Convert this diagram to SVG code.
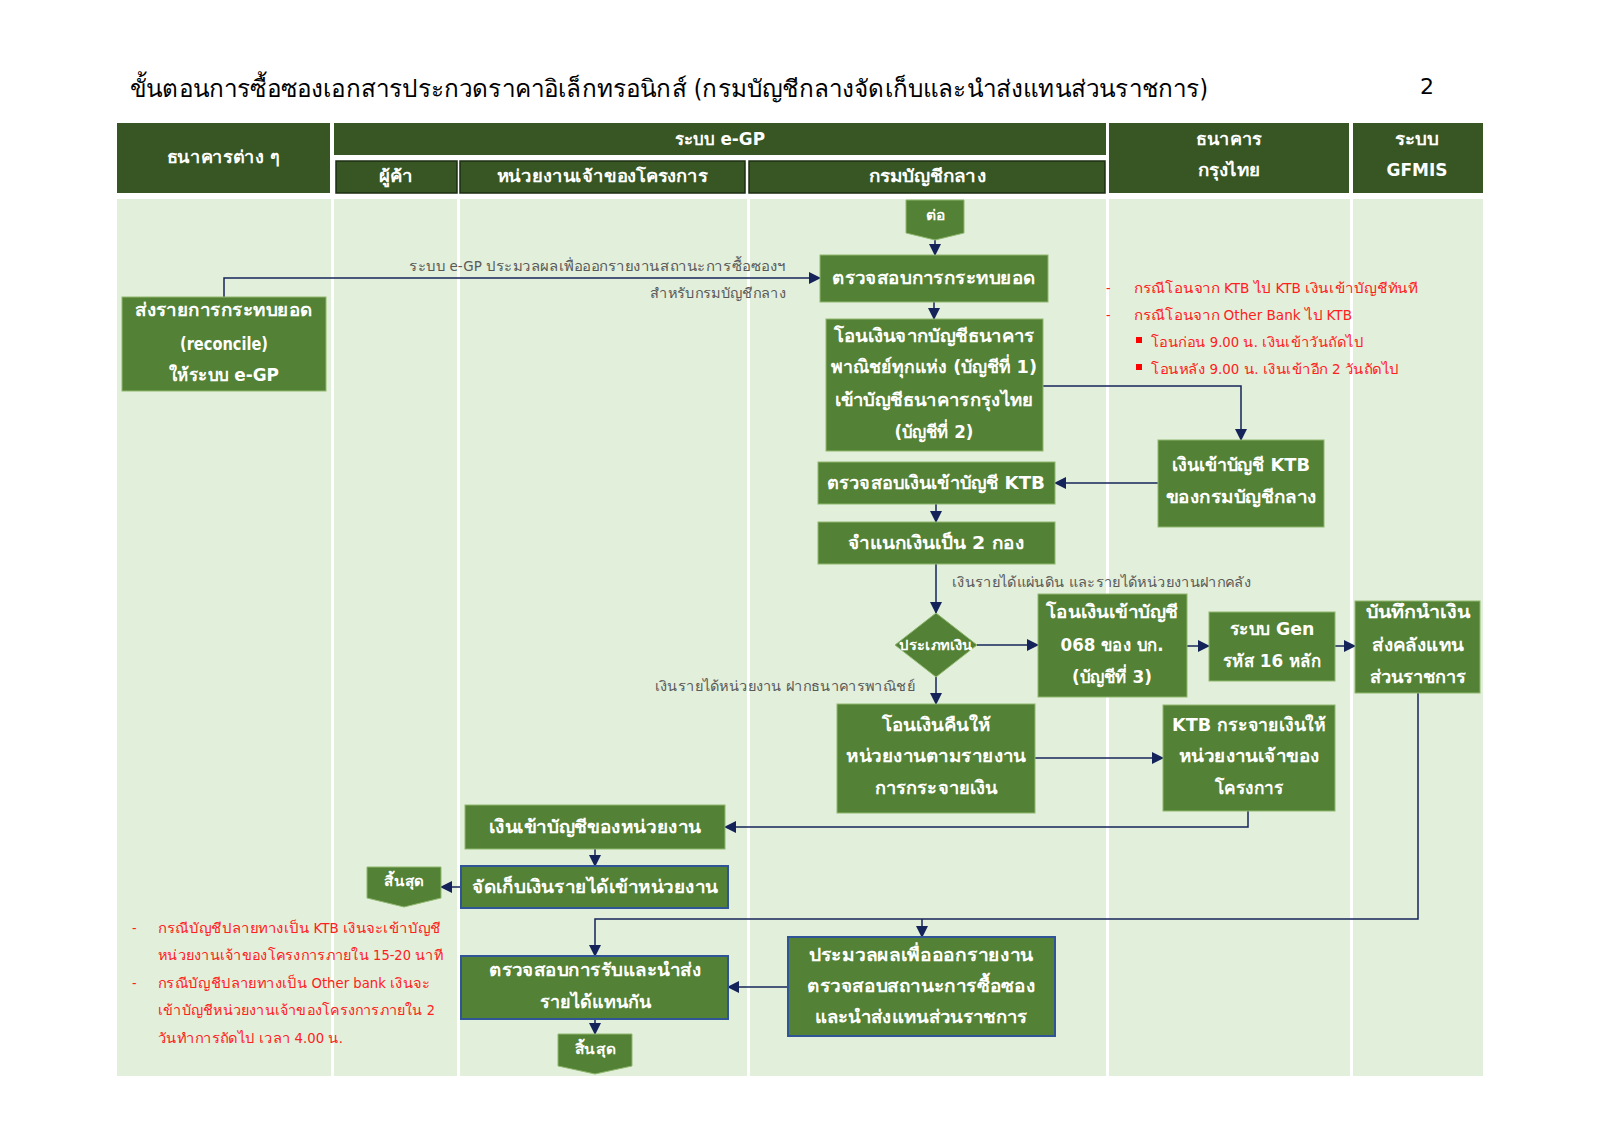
<svg xmlns="http://www.w3.org/2000/svg" width="1600" height="1130" viewBox="0 0 1600 1130">
<defs>
<marker id="ah" markerUnits="userSpaceOnUse" markerWidth="12" markerHeight="12" refX="11" refY="6" orient="auto">
<path d="M0,0 L12,6 L0,12 z" fill="#14245a"/>
</marker>
<style>
.hd{fill:#375623}
.sub{fill:#375623;stroke:#1c2e12;stroke-width:1.5}
.ht{font-family:"DejaVu Sans",sans-serif;font-weight:bold;font-size:17px;fill:#fff;text-anchor:middle}
.bx{fill:#538135;stroke:#8fb870;stroke-width:1}
.bb{fill:#538135;stroke:#2f5597;stroke-width:2}
.t{font-family:"DejaVu Sans",sans-serif;font-weight:bold;font-size:18px;fill:#fff;text-anchor:middle}
.ts{font-family:"DejaVu Sans",sans-serif;font-weight:bold;font-size:14px;fill:#fff;text-anchor:middle}
.lb{font-family:"DejaVu Sans Condensed","DejaVu Sans",sans-serif;font-size:14px;fill:#595959}
.rd{font-family:"DejaVu Sans Condensed","DejaVu Sans",sans-serif;font-size:14px;fill:#ff2020}
.cn{fill:none;stroke:#14245a;stroke-width:1.5}
</style>
</defs>
<rect width="1600" height="1130" fill="#fff"/>
<text x="130" y="97" font-family="DejaVu Sans Condensed, DejaVu Sans, sans-serif" font-size="24" fill="#000" textLength="1078" lengthAdjust="spacingAndGlyphs">ขั้นตอนการซื้อซองเอกสารประกวดราคาอิเล็กทรอนิกส์ (กรมบัญชีกลางจัดเก็บและนำส่งแทนส่วนราชการ)</text>
<text x="1427" y="94" font-family="DejaVu Sans, sans-serif" font-size="22" fill="#000" text-anchor="middle">2</text>

<g id="lanes">
<rect x="117" y="199" width="1366" height="877" fill="#e2efda"/>
<rect x="331" y="199" width="3" height="877" fill="#fff"/>
<rect x="457" y="199" width="3" height="877" fill="#fff"/>
<rect x="747" y="199" width="3" height="877" fill="#fff"/>
<rect x="1106" y="199" width="3" height="877" fill="#fff"/>
<rect x="1350" y="199" width="3" height="877" fill="#fff"/>
</g>

<g id="header">
<rect class="hd" x="117" y="123" width="213" height="70"/>
<rect class="hd" x="334" y="123" width="772" height="32"/>
<rect class="sub" x="336" y="161" width="121" height="32"/>
<rect class="sub" x="460" y="161" width="285" height="32"/>
<rect class="sub" x="749" y="161" width="356" height="32"/>
<rect class="hd" x="1109" y="123" width="240" height="70"/>
<rect class="hd" x="1353" y="123" width="130" height="70"/>
<text class="ht" x="223" y="163" textLength="113" lengthAdjust="spacingAndGlyphs">ธนาคารต่าง ๆ</text>
<text class="ht" x="720" y="145" textLength="90" lengthAdjust="spacingAndGlyphs">ระบบ e-GP</text>
<text class="ht" x="396" y="182" textLength="34" lengthAdjust="spacingAndGlyphs">ผู้ค้า</text>
<text class="ht" x="602" y="182" textLength="211" lengthAdjust="spacingAndGlyphs">หน่วยงานเจ้าของโครงการ</text>
<text class="ht" x="927" y="182" textLength="117" lengthAdjust="spacingAndGlyphs">กรมบัญชีกลาง</text>
<text class="ht" x="1229" y="145" textLength="66" lengthAdjust="spacingAndGlyphs">ธนาคาร</text>
<text class="ht" x="1229" y="176" textLength="63" lengthAdjust="spacingAndGlyphs">กรุงไทย</text>
<text class="ht" x="1417" y="145" textLength="44" lengthAdjust="spacingAndGlyphs">ระบบ</text>
<text class="ht" x="1417" y="176">GFMIS</text>
</g>

<g id="connectors">
<polyline class="cn" points="224,297 224,278 820,278" marker-end="url(#ah)"/>
<polyline class="cn" points="935,240 935,255" marker-end="url(#ah)"/>
<polyline class="cn" points="934,302 934,319" marker-end="url(#ah)"/>
<polyline class="cn" points="1043,386 1241,386 1241,440" marker-end="url(#ah)"/>
<polyline class="cn" points="1158,483 1055,483" marker-end="url(#ah)"/>
<polyline class="cn" points="936,504 936,522" marker-end="url(#ah)"/>
<polyline class="cn" points="936,564 936,613" marker-end="url(#ah)"/>
<polyline class="cn" points="977,645 1038,645" marker-end="url(#ah)"/>
<polyline class="cn" points="1187,646 1209,646" marker-end="url(#ah)"/>
<polyline class="cn" points="1335,646 1355,646" marker-end="url(#ah)"/>
<polyline class="cn" points="936,677 936,704" marker-end="url(#ah)"/>
<polyline class="cn" points="1035,758 1163,758" marker-end="url(#ah)"/>
<polyline class="cn" points="1248,811 1248,827 725,827" marker-end="url(#ah)"/>
<polyline class="cn" points="595,849 595,866" marker-end="url(#ah)"/>
<polyline class="cn" points="461,887 441,887" marker-end="url(#ah)"/>
<polyline class="cn" points="1418,693 1418,919 595,919 595,956" marker-end="url(#ah)"/>
<polyline class="cn" points="922,919 922,937" marker-end="url(#ah)"/>
<polyline class="cn" points="788,987 728,987" marker-end="url(#ah)"/>
<polyline class="cn" points="595,1019 595,1034" marker-end="url(#ah)"/>
</g>

<g id="labels">
<text class="lb" x="786" y="271" text-anchor="end" textLength="377" lengthAdjust="spacingAndGlyphs">ระบบ e-GP ประมวลผลเพื่อออกรายงานสถานะการซื้อซองฯ</text>
<text class="lb" x="786" y="298" text-anchor="end" textLength="136" lengthAdjust="spacingAndGlyphs">สำหรับกรมบัญชีกลาง</text>
<text class="lb" x="952" y="587" textLength="299" lengthAdjust="spacingAndGlyphs">เงินรายได้แผ่นดิน และรายได้หน่วยงานฝากคลัง</text>
<text class="lb" x="655" y="691" textLength="260" lengthAdjust="spacingAndGlyphs">เงินรายได้หน่วยงาน ฝากธนาคารพาณิชย์</text>
</g>

<g id="notes-ktb">
<text class="rd" x="1106" y="293">-</text>
<text class="rd" x="1134" y="293" textLength="284" lengthAdjust="spacingAndGlyphs">กรณีโอนจาก KTB ไป KTB เงินเข้าบัญชีทันที</text>
<text class="rd" x="1106" y="320">-</text>
<text class="rd" x="1134" y="320" textLength="218" lengthAdjust="spacingAndGlyphs">กรณีโอนจาก Other Bank ไป KTB</text>
<rect x="1136" y="337" width="6" height="6" fill="#ff0000"/>
<text class="rd" x="1151" y="347" textLength="212" lengthAdjust="spacingAndGlyphs">โอนก่อน 9.00 น. เงินเข้าวันถัดไป</text>
<rect x="1136" y="364" width="6" height="6" fill="#ff0000"/>
<text class="rd" x="1151" y="374" textLength="248" lengthAdjust="spacingAndGlyphs">โอนหลัง 9.00 น. เงินเข้าอีก 2 วันถัดไป</text>
</g>

<g id="notes-bank">
<text class="rd" x="132" y="933">-</text>
<text class="rd" x="158" y="933" textLength="283" lengthAdjust="spacingAndGlyphs">กรณีบัญชีปลายทางเป็น KTB เงินจะเข้าบัญชี</text>
<text class="rd" x="158" y="960" textLength="285" lengthAdjust="spacingAndGlyphs">หน่วยงานเจ้าของโครงการภายใน 15-20 นาที</text>
<text class="rd" x="132" y="988">-</text>
<text class="rd" x="158" y="988" textLength="272" lengthAdjust="spacingAndGlyphs">กรณีบัญชีปลายทางเป็น Other bank เงินจะ</text>
<text class="rd" x="158" y="1015" textLength="277" lengthAdjust="spacingAndGlyphs">เข้าบัญชีหน่วยงานเจ้าของโครงการภายใน 2</text>
<text class="rd" x="158" y="1043" textLength="185" lengthAdjust="spacingAndGlyphs">วันทำการถัดไป เวลา 4.00 น.</text>
</g>

<g id="n-cont">
<path class="bx" d="M906,200 H964 V233 L935,240 L906,233 Z"/>
<text class="ts" x="935" y="220" textLength="19" lengthAdjust="spacingAndGlyphs">ต่อ</text>
</g>
<g id="n-reconcile">
<rect class="bx" x="122" y="297" width="204" height="94"/>
<text class="t" x="224" y="316" textLength="178" lengthAdjust="spacingAndGlyphs">ส่งรายการกระทบยอด</text>
<text class="t" x="224" y="350" textLength="88" lengthAdjust="spacingAndGlyphs">(reconcile)</text>
<text class="t" x="224" y="381" textLength="110" lengthAdjust="spacingAndGlyphs">ให้ระบบ e-GP</text>
</g>
<g id="n-check-recon">
<rect class="bx" x="820" y="255" width="228" height="47"/>
<text class="t" x="934" y="284" textLength="204" lengthAdjust="spacingAndGlyphs">ตรวจสอบการกระทบยอด</text>
</g>
<g id="n-transfer1">
<rect class="bx" x="826" y="319" width="217" height="132"/>
<text class="t" x="934" y="342" textLength="201" lengthAdjust="spacingAndGlyphs">โอนเงินจากบัญชีธนาคาร</text>
<text class="t" x="934" y="373" textLength="206" lengthAdjust="spacingAndGlyphs">พาณิชย์ทุกแห่ง (บัญชีที่ 1)</text>
<text class="t" x="934" y="406" textLength="199" lengthAdjust="spacingAndGlyphs">เข้าบัญชีธนาคารกรุงไทย</text>
<text class="t" x="934" y="438" textLength="79" lengthAdjust="spacingAndGlyphs">(บัญชีที่ 2)</text>
</g>
<g id="n-ktb-in">
<rect class="bx" x="1158" y="440" width="166" height="87"/>
<text class="t" x="1241" y="471" textLength="138" lengthAdjust="spacingAndGlyphs">เงินเข้าบัญชี KTB</text>
<text class="t" x="1241" y="503" textLength="151" lengthAdjust="spacingAndGlyphs">ของกรมบัญชีกลาง</text>
</g>
<g id="n-check-ktb">
<rect class="bx" x="818" y="462" width="237" height="42"/>
<text class="t" x="936" y="489" textLength="218" lengthAdjust="spacingAndGlyphs">ตรวจสอบเงินเข้าบัญชี KTB</text>
</g>
<g id="n-split">
<rect class="bx" x="818" y="522" width="237" height="42"/>
<text class="t" x="936" y="549" textLength="177" lengthAdjust="spacingAndGlyphs">จำแนกเงินเป็น 2  กอง</text>
</g>
<g id="n-type">
<path class="bx" d="M936,613 L977,645 L936,677 L895,645 Z"/>
<text class="ts" x="936" y="650" textLength="74" lengthAdjust="spacingAndGlyphs">ประเภทเงิน</text>
</g>
<g id="n-acc068">
<rect class="bx" x="1038" y="594" width="149" height="103"/>
<text class="t" x="1112" y="618" textLength="132" lengthAdjust="spacingAndGlyphs">โอนเงินเข้าบัญชี</text>
<text class="t" x="1112" y="651" textLength="103" lengthAdjust="spacingAndGlyphs">068 ของ บก.</text>
<text class="t" x="1112" y="683" textLength="80" lengthAdjust="spacingAndGlyphs">(บัญชีที่ 3)</text>
</g>
<g id="n-gen">
<rect class="bx" x="1209" y="612" width="126" height="69"/>
<text class="t" x="1272" y="635" textLength="85" lengthAdjust="spacingAndGlyphs">ระบบ Gen</text>
<text class="t" x="1272" y="667" textLength="98" lengthAdjust="spacingAndGlyphs">รหัส 16 หลัก</text>
</g>
<g id="n-gfmis">
<rect class="bx" x="1355" y="601" width="125" height="92"/>
<text class="t" x="1418" y="618" textLength="104" lengthAdjust="spacingAndGlyphs">บันทึกนำเงิน</text>
<text class="t" x="1418" y="651" textLength="92" lengthAdjust="spacingAndGlyphs">ส่งคลังแทน</text>
<text class="t" x="1418" y="683" textLength="97" lengthAdjust="spacingAndGlyphs">ส่วนราชการ</text>
</g>
<g id="n-refund">
<rect class="bx" x="837" y="704" width="198" height="109"/>
<text class="t" x="936" y="731" textLength="109" lengthAdjust="spacingAndGlyphs">โอนเงินคืนให้</text>
<text class="t" x="936" y="762" textLength="180" lengthAdjust="spacingAndGlyphs">หน่วยงานตามรายงาน</text>
<text class="t" x="936" y="794" textLength="123" lengthAdjust="spacingAndGlyphs">การกระจายเงิน</text>
</g>
<g id="n-ktb-dist">
<rect class="bx" x="1163" y="705" width="172" height="106"/>
<text class="t" x="1249" y="731" textLength="154" lengthAdjust="spacingAndGlyphs">KTB กระจายเงินให้</text>
<text class="t" x="1249" y="762" textLength="141" lengthAdjust="spacingAndGlyphs">หน่วยงานเจ้าของ</text>
<text class="t" x="1249" y="794" textLength="69" lengthAdjust="spacingAndGlyphs">โครงการ</text>
</g>
<g id="n-unit-in">
<rect class="bx" x="465" y="805" width="260" height="44"/>
<text class="t" x="595" y="833" textLength="212" lengthAdjust="spacingAndGlyphs">เงินเข้าบัญชีของหน่วยงาน</text>
</g>
<g id="n-collect">
<rect class="bb" x="461" y="866" width="267" height="42"/>
<text class="t" x="595" y="893" textLength="246" lengthAdjust="spacingAndGlyphs">จัดเก็บเงินรายได้เข้าหน่วยงาน</text>
</g>
<g id="n-end1">
<path class="bx" d="M367,867 H441 V898 L404,907 L367,898 Z"/>
<text class="ts" x="404" y="886" textLength="40" lengthAdjust="spacingAndGlyphs">สิ้นสุด</text>
</g>
<g id="n-verify">
<rect class="bb" x="461" y="956" width="267" height="63"/>
<text class="t" x="595" y="976" textLength="212" lengthAdjust="spacingAndGlyphs">ตรวจสอบการรับและนำส่ง</text>
<text class="t" x="595" y="1008" textLength="111" lengthAdjust="spacingAndGlyphs">รายได้แทนกัน</text>
</g>
<g id="n-end2">
<path class="bx" d="M558,1034 H632 V1066 L595,1074 L558,1066 Z"/>
<text class="ts" x="595" y="1054" textLength="41" lengthAdjust="spacingAndGlyphs">สิ้นสุด</text>
</g>
<g id="n-report">
<rect class="bb" x="788" y="937" width="267" height="99"/>
<text class="t" x="921" y="961" textLength="224" lengthAdjust="spacingAndGlyphs">ประมวลผลเพื่อออกรายงาน</text>
<text class="t" x="921" y="992" textLength="228" lengthAdjust="spacingAndGlyphs">ตรวจสอบสถานะการซื้อซอง</text>
<text class="t" x="921" y="1023" textLength="213" lengthAdjust="spacingAndGlyphs">และนำส่งแทนส่วนราชการ</text>
</g>
</svg>
